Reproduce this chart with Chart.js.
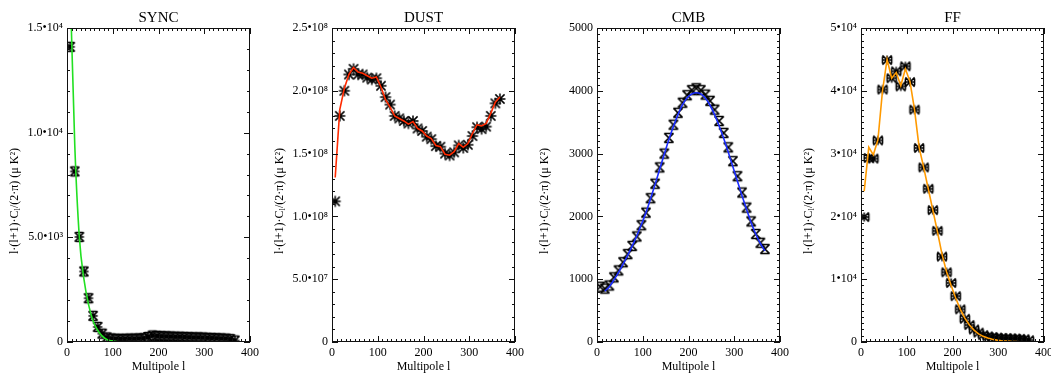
<!DOCTYPE html>
<html>
<head>
<meta charset="utf-8">
<script src="https://cdn.jsdelivr.net/npm/chart.js@4.4.1/dist/chart.umd.min.js"></script>
<style>
  html, body { margin: 0; padding: 0; background: #fff; overflow: hidden; }
  #wrap { position: relative; width: 1051px; height: 376px; overflow: hidden; background: #fff; }
  #wrap canvas { position: absolute; top: 0; }
</style>
</head>
<body>
<div id="wrap">
  <canvas id="sync" width="265" height="376" style="left:0px"></canvas>
  <canvas id="dust" width="265" height="376" style="left:265px"></canvas>
  <canvas id="cmb" width="265" height="376" style="left:530px"></canvas>
  <canvas id="ff" width="265" height="376" style="left:794px"></canvas>
</div>
<script>
// multipole bins (x)
var multipole = [7, 17, 27, 37, 47, 57, 67, 77, 87, 97, 107, 117, 127, 137, 147, 157, 167, 177, 187,
    197, 207, 217, 227, 237, 247, 257, 267, 277, 287, 297, 307, 317, 327, 337, 347, 357, 367];

// measured points (stars) and model curves
var syncData = [14100, 8150, 5020, 3370, 2090, 1250, 720, 400, 220, 170, 150, 150, 150, 160, 160, 170, 180, 240, 310,
    290, 280, 270, 260, 250, 250, 240, 230, 220, 220, 210, 200, 190, 180, 170, 160, 140, 70];
var syncModel = [17000, 9400, 5000, 3000, 1800, 1000, 560, 280, 120, 55, 25, 12, 6, 3, 2, 1, 1, 0, 0,
    0, 0, 0, 0, 0, 0, 0, 0, 0, 0, 0, 0, 0, 0, 0, 0, 0, 0];

var dustData = [1.12e8, 1.80e8, 2.00e8, 2.13e8, 2.175e8, 2.13e8, 2.13e8, 2.105e8, 2.09e8, 2.10e8, 2.04e8, 1.95e8,
    1.89e8, 1.80e8, 1.78e8, 1.76e8, 1.74e8, 1.76e8, 1.70e8, 1.68e8, 1.635e8, 1.615e8, 1.56e8, 1.555e8, 1.50e8,
    1.485e8, 1.51e8, 1.565e8, 1.545e8, 1.57e8, 1.64e8, 1.71e8, 1.695e8, 1.715e8, 1.80e8, 1.90e8, 1.935e8];
var dustModel = [1.31e8, 1.85e8, 2.02e8, 2.13e8, 2.185e8, 2.15e8, 2.14e8, 2.12e8, 2.10e8, 2.11e8, 2.03e8, 1.93e8,
    1.87e8, 1.80e8, 1.78e8, 1.76e8, 1.735e8, 1.755e8, 1.70e8, 1.68e8, 1.64e8, 1.62e8, 1.565e8, 1.555e8, 1.495e8,
    1.487e8, 1.515e8, 1.58e8, 1.55e8, 1.58e8, 1.66e8, 1.73e8, 1.72e8, 1.74e8, 1.82e8, 1.91e8, 1.95e8];

var cmbData = [880, 850, 900, 1030, 1140, 1270, 1400, 1530, 1680, 1860, 2060, 2290, 2520, 2780, 3000, 3250, 3460,
    3650, 3810, 3930, 4010, 4040, 4010, 3940, 3840, 3700, 3520, 3330, 3100, 2880, 2640, 2380, 2140, 1920, 1720,
    1580, 1480];
var cmbModel = [null, 810, 880, 990, 1110, 1240, 1380, 1530, 1690, 1870, 2060, 2280, 2510, 2750, 2990, 3220, 3430,
    3620, 3780, 3890, 3950, 3970, 3950, 3880, 3770, 3620, 3440, 3240, 3020, 2790, 2560, 2330, 2110, 1900, 1720,
    1570, 1450];

var ffData = [19900, 29300, 29200, 32100, 40200, 44900, 42000, 43100, 40700, 43900, 41400, 37000, 30900, 27800,
    24400, 21000, 17700, 13600, 11100, 9400, 7300, 5200, 3700, 2700, 2000, 1500, 1100, 900, 800, 700, 650, 600,
    580, 550, 500, 450, 280];
var ffModel = [24000, 31000, 29800, 32200, 40000, 45000, 42000, 42900, 40800, 43500, 41500, 37000, 31000, 27800,
    24400, 21000, 17600, 14000, 11200, 9000, 7000, 5200, 3800, 2700, 1900, 1300, 900, 620, 430, 300, 210, 150,
    100, 70, 50, 35, 25];

// tick labels
var xTickLabels = ['0', '100', '200', '300', '400'];
var syncTicks = ['0', '5.0\u202210\u00b3', '1.0\u202210\u2074', '1.5\u202210\u2074'];
var dustTicks = ['0', '5.0\u202210\u2077', '1.0\u202210\u2078', '1.5\u202210\u2078', '2.0\u202210\u2078', '2.5\u202210\u2078'];
var cmbTicks = ['0', '1000', '2000', '3000', '4000', '5000'];
var ffTicks = ['0', '1\u202210\u2074', '2\u202210\u2074', '3\u202210\u2074', '4\u202210\u2074', '5\u202210\u2074'];

var serif = '"Liberation Serif", "DejaVu Serif", serif';
Chart.defaults.color = '#000';
Chart.defaults.font.family = serif;

function toXY(arr) {
    return multipole.map(function (l, i) { return { x: l, y: arr[i] }; });
}

// little IDL-ish plot symbols
function makeMarker(kind) {
    var c = document.createElement('canvas');
    c.width = 14; c.height = 14;
    var g = c.getContext('2d');
    var m = 7, r = 4.6;
    g.strokeStyle = '#000';
    g.lineWidth = 1.5;
    g.beginPath();
    g.moveTo(m - r, m - r); g.lineTo(m + r, m + r);
    g.moveTo(m + r, m - r); g.lineTo(m - r, m + r);
    if (kind === 'star') {
        g.moveTo(m - r - 0.9, m); g.lineTo(m + r + 0.9, m);
        g.moveTo(m, m - r - 0.9); g.lineTo(m, m + r + 0.9);
    } else if (kind === 'hourglass') {
        g.moveTo(m - r, m - r); g.lineTo(m + r, m - r);
        g.moveTo(m - r, m + r); g.lineTo(m + r, m + r);
    } else if (kind === 'starH') {
        g.moveTo(m - r, m); g.lineTo(m + r, m);
        g.moveTo(m, m - r); g.lineTo(m, m + r);
        g.moveTo(m - r + 1, m - r); g.lineTo(m + r - 1, m - r);
        g.moveTo(m - r + 1, m + r); g.lineTo(m + r - 1, m + r);
    } else if (kind === 'starV') {
        g.moveTo(m - r, m); g.lineTo(m + r, m);
        g.moveTo(m, m - r); g.lineTo(m, m + r);
        g.moveTo(m - r, m - r + 1); g.lineTo(m - r, m + r - 1);
        g.moveTo(m + r, m - r + 1); g.lineTo(m + r, m + r - 1);
    }
    g.stroke();
    return c;
}

// frame with inward ticks on all four sides + titles
var idlFrame = {
    id: 'idlFrame',
    afterDatasetsDraw: function (chart, args, opts) {
        var ctx = chart.ctx, a = chart.chartArea;
        var xs = chart.scales.x, ys = chart.scales.y;
        ctx.save();
        ctx.strokeStyle = '#111';
        ctx.lineWidth = 1;
        ctx.beginPath();
        var n = Math.round((xs.max - xs.min) / 10);
        for (var i = 0; i <= n; i++) {
            var v = xs.min + i * 10;
            var px = Math.round(xs.getPixelForValue(v)) + 0.5;
            var len = (v % 100 === 0) ? 6 : 3;
            ctx.moveTo(px, a.bottom); ctx.lineTo(px, a.bottom - len);
            ctx.moveTo(px, a.top); ctx.lineTo(px, a.top + len);
        }
        var k = Math.round((ys.max - ys.min) / opts.yMinor);
        var every = Math.round(opts.yMajor / opts.yMinor);
        for (var j = 0; j <= k; j++) {
            var py = Math.round(ys.getPixelForValue(ys.min + j * opts.yMinor)) + 0.5;
            var ln = (j % every === 0) ? 6 : 3;
            ctx.moveTo(a.left, py); ctx.lineTo(a.left + ln, py);
            ctx.moveTo(a.right, py); ctx.lineTo(a.right - ln, py);
        }
        ctx.stroke();
        ctx.strokeRect(Math.round(a.left) + 0.5, Math.round(a.top) + 0.5,
            Math.round(a.width) - 1, Math.round(a.height) - 1);

        // panel title
        ctx.fillStyle = '#000';
        ctx.font = '15px ' + serif;
        ctx.textAlign = 'center';
        ctx.textBaseline = 'middle';
        ctx.fillText(opts.title, (a.left + a.right) / 2, 18);

        // y axis title  l(l+1)C_l/(2pi) (uK^2)
        ctx.translate(15, 201);
        ctx.rotate(-Math.PI / 2);
        ctx.textAlign = 'left';
        var big = '12px ' + serif, small = '9px ' + serif;
        var p1 = 'l\u00b7(l+1)\u00b7C', p2 = 'l', p3 = '/(2\u00b7\u03c0) (\u03bc K\u00b2)';
        ctx.font = big; var w1 = ctx.measureText(p1).width, w3 = ctx.measureText(p3).width;
        ctx.font = small; var w2 = ctx.measureText(p2).width;
        var x0 = -(w1 + w2 + w3) / 2;
        ctx.font = big; ctx.fillText(p1, x0, 0);
        ctx.font = small; ctx.fillText(p2, x0 + w1, 3);
        ctx.font = big; ctx.fillText(p3, x0 + w1 + w2, 0);
        ctx.restore();
    }
};

function buildPanel(id, title, points, model, color, smooth, yMax, yMajor, yMinor, yLabels, marker) {
    return new Chart(document.getElementById(id), {
        type: 'line',
        data: {
            datasets: [{
                data: toXY(model),
                borderColor: color,
                borderWidth: 1.6,
                pointRadius: 0,
                fill: false,
                tension: 0,
                cubicInterpolationMode: smooth ? 'monotone' : 'default',
                clip: 0
            }, {
                data: toXY(points),
                showLine: false,
                pointStyle: makeMarker(marker),
                pointRadius: 5,
                borderColor: '#000',
                backgroundColor: '#000'
            }]
        },
        options: {
            responsive: false,
            animation: false,
            devicePixelRatio: 1,
            events: [],
            layout: { padding: { top: 28, right: 15, left: 0, bottom: 0 } },
            plugins: {
                legend: { display: false },
                tooltip: { enabled: false },
                idlFrame: { title: title, yMajor: yMajor, yMinor: yMinor }
            },
            scales: {
                x: {
                    type: 'linear', min: 0, max: 400,
                    grid: { display: false, drawTicks: false },
                    border: { display: false },
                    ticks: {
                        stepSize: 100, autoSkip: false, maxRotation: 0, padding: 4,
                        font: { size: 12 },
                        callback: function (v, i) { return xTickLabels[i]; }
                    },
                    title: { display: true, text: 'Multipole l', font: { size: 12 }, padding: { top: 0, bottom: 2 } },
                    afterFit: function (s) { s.height = 34; }
                },
                y: {
                    type: 'linear', min: 0, max: yMax,
                    grid: { display: false, drawTicks: false },
                    border: { display: false },
                    ticks: {
                        stepSize: yMajor, autoSkip: false, padding: 4,
                        font: { size: 12 },
                        callback: function (v, i) { return yLabels[i]; }
                    },
                    afterFit: function (s) { s.width = 67; }
                }
            }
        },
        plugins: [idlFrame]
    });
}

buildPanel('sync', 'SYNC', syncData, syncModel, '#22e022', true, 15000, 5000, 1000, syncTicks, 'starH');
buildPanel('dust', 'DUST', dustData, dustModel, '#ff2a00', false, 2.5e8, 5e7, 1e7, dustTicks, 'star');
buildPanel('cmb', 'CMB', cmbData, cmbModel, '#1a2cff', true, 5000, 1000, 100, cmbTicks, 'hourglass');
buildPanel('ff', 'FF', ffData, ffModel, '#ff9a00', false, 50000, 10000, 1000, ffTicks, 'starV');
</script>
</body>
</html>
